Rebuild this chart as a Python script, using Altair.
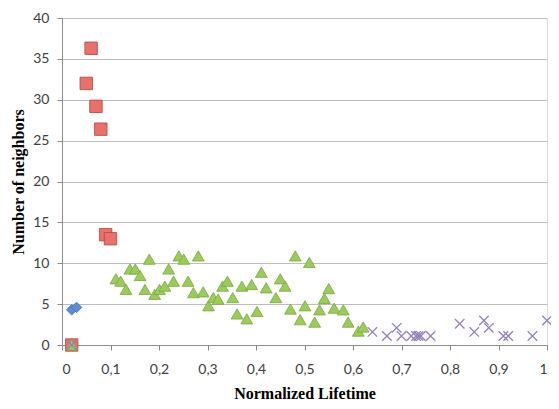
import altair as alt
import pandas as pd

# Series: red squares
sq_x = [0.02, 0.05, 0.06, 0.07, 0.08, 0.09, 0.10]
sq_y = [0.0, 32.0, 36.3, 29.2, 26.4, 13.5, 13.0]

# Series: blue diamonds
dm_x = [0.02, 0.03]
dm_y = [4.3, 4.6]

# Series: green triangles
tr_x = [0.02, 0.111, 0.121, 0.132, 0.140, 0.151, 0.161, 0.171, 0.180, 0.191,
        0.201, 0.212, 0.220, 0.230, 0.241, 0.251, 0.260, 0.271, 0.281, 0.291,
        0.302, 0.312, 0.322, 0.331, 0.341, 0.352, 0.361, 0.371, 0.381, 0.391,
        0.402, 0.411, 0.421, 0.441, 0.450, 0.460, 0.471, 0.481, 0.491, 0.501,
        0.510, 0.521, 0.531, 0.541, 0.550, 0.561, 0.580, 0.590, 0.611, 0.621]
tr_y = [0.0, 8.1, 7.8, 6.8, 9.3, 9.3, 8.5, 6.8, 10.5, 6.2,
        6.8, 7.2, 9.3, 7.8, 10.9, 10.5, 7.8, 6.4, 10.9, 6.5,
        4.8, 5.8, 5.6, 7.2, 7.8, 5.8, 3.8, 7.2, 3.2, 7.4,
        4.1, 8.9, 7.0, 5.8, 8.1, 7.2, 4.4, 10.9, 3.1, 4.8,
        10.1, 2.8, 4.3, 5.7, 6.9, 4.5, 4.3, 2.8, 1.7, 2.2]

# Series: purple crosses
xx_x = [0.02, 0.64, 0.67, 0.69, 0.70, 0.72, 0.73, 0.735, 0.74, 0.76,
        0.82, 0.85, 0.87, 0.88, 0.91, 0.92, 0.97, 1.0]
xx_y = [0.0, 1.6, 1.1, 2.1, 1.1, 1.1, 1.1, 1.1, 1.1, 1.1,
        2.6, 1.6, 3.0, 2.1, 1.1, 1.1, 1.1, 3.0]

x_ticks = [0, 0.1, 0.2, 0.3, 0.4, 0.5, 0.6, 0.7, 0.8, 0.9, 1.0]
y_ticks = [0, 5, 10, 15, 20, 25, 30, 35, 40]

sq = pd.DataFrame({"x": sq_x, "y": sq_y})
dm = pd.DataFrame({"x": dm_x, "y": dm_y})
tr = pd.DataFrame({"x": tr_x, "y": tr_y})
xx = pd.DataFrame({"x": xx_x, "y": xx_y})

X = alt.X("x:Q", scale=alt.Scale(domain=[0, 1], nice=False, zero=False),
          axis=alt.Axis(values=x_ticks, title="Normalized Lifetime",
                        labelExpr="replace(format(datum.value, '.1~f'), '.', ',')",
                        grid=False, tickSize=5, labelPadding=12, titlePadding=9,
                        labelFontSize=14, labelColor="#404040", labelFont="Lato",
                        titleFont="Liberation Serif", titleFontSize=16,
                        titleFontWeight="bold", titleColor="#000000",
                        domainColor="#8C8C8C", tickColor="#8C8C8C"))
Y = alt.Y("y:Q", scale=alt.Scale(domain=[0, 40], nice=False),
          axis=alt.Axis(values=y_ticks, title="Number of neighbors",
                        grid=True, gridColor="#BEBEBE", tickSize=5,
                        labelPadding=8, titlePadding=6,
                        labelFontSize=14, labelColor="#404040", labelFont="Lato",
                        titleFont="Liberation Serif", titleFontSize=16,
                        titleFontWeight="bold", titleColor="#000000",
                        domainColor="#8C8C8C", tickColor="#8C8C8C"))

squares = alt.Chart(sq).mark_point(shape="square", filled=True, size=155,
                                   color="#E8716C", stroke="#B8423F",
                                   strokeWidth=0.8, opacity=1).encode(x=X, y=Y)
diamonds = alt.Chart(dm).mark_point(shape="diamond", filled=True, size=110,
                                    color="#5B8ED8", stroke="#3D6DB5",
                                    strokeWidth=0.8, opacity=1).encode(x=X, y=Y)
triangles = alt.Chart(tr).mark_point(shape="triangle-up", filled=True, size=140,
                                     color="#9CCB5C", stroke="#78A83C",
                                     strokeWidth=0.8, opacity=1).encode(x=X, y=Y)
crosses = alt.Chart(xx).mark_point(shape="M-1,-1L1,1M-1,1L1,-1", filled=False,
                                   size=90, color="#9580BE", strokeWidth=1.3,
                                   opacity=1).encode(x=X, y=Y)

chart = alt.layer(squares, diamonds, triangles, crosses).properties(
    width=485, height=327,
    autosize=alt.AutoSizeParams(type="none"),
    padding={"left": 54, "top": 10, "right": 4, "bottom": 55},
).configure_view(stroke=None).configure(background="white")

chart.save("out.html", embed_options={"renderer": "svg", "actions": False})
